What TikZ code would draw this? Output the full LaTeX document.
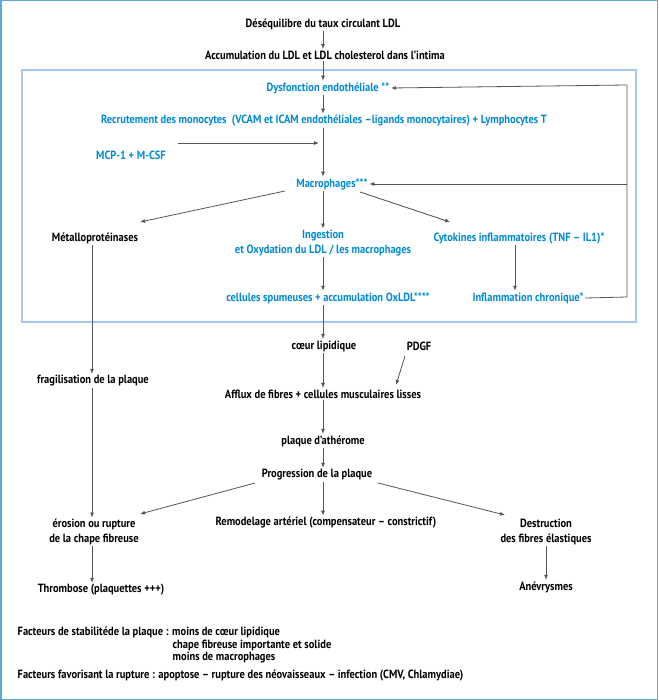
\documentclass[tikz,border=0pt]{standalone}
\usepackage{fontspec}
\setmainfont{PT Sans}[FakeStretch=0.88]
\usetikzlibrary{arrows.meta,calc}
\definecolor{blueT}{RGB}{0,138,210}
\definecolor{boxC}{RGB}{160,200,240}
\definecolor{frameC}{RGB}{90,170,225}
\definecolor{lineC}{RGB}{85,85,85}
\begin{document}
\begin{tikzpicture}[x=1pt,y=-1pt,
  txt/.style={font=\bfseries\fontsize{11.9}{14.5}\selectfont, inner sep=1.5pt, align=center, text=black},
  btxt/.style={txt, text=blueT},
  arr/.style={draw=lineC, line width=0.8pt, -{Latex[length=5pt,width=4pt]}},
  ln/.style={draw=lineC, line width=0.8pt}]
\useasboundingbox (0,0) rectangle (658,700);
\draw[frameC, line width=1.5pt] (0.75,0.75) rectangle (657.25,699.25);
\draw[boxC, line width=1.6pt] (22,70) rectangle (636,322);

\node[txt] (desq) at (323,24) {Déséquilibre du taux circulant LDL};
\node[txt] (accu) at (325,55) {Accumulation du LDL et LDL cholesterol dans l’intima};
\node[btxt] (dys) at (328,88) {Dysfonction endothéliale **};
\node[btxt] (recr) at (324,121) {Recrutement des monocytes\ \ (VCAM et ICAM endothéliales –ligands monocytaires) + Lymphocytes T};
\node[btxt] (mcp) at (131,155) {MCP-1 + M-CSF};
\node[btxt] (macro) at (332,184) {Macrophages***};
\node[txt] (metal) at (95,238) {Métalloprotéinases};
\node[btxt] (inges) at (323,243) {Ingestion\\et Oxydation du LDL / les macrophages};
\node[btxt] (cyto) at (519,238) {Cytokines inflammatoires (TNF – IL1)*};
\node[btxt] (spum) at (328,298) {cellules spumeuses + accumulation OxLDL****};
\node[btxt] (infl) at (528,298) {Inflammation chronique*};
\node[txt] (coeur) at (324,346) {cœur lipidique};
\node[txt] (pdgf) at (419,346) {PDGF};
\node[txt] (fragi) at (93,381) {fragilisation de la plaque};
\node[txt] (afflux) at (323,394) {Afflux de fibres + cellules musculaires lisses};
\node[txt] (plaque) at (323,441) {plaque d’athérome};
\node[txt] (progr) at (317,475) {Progression de la plaque};
\node[txt] (eros) at (94,532) {érosion ou rupture\\de la chape fibreuse};
\node[txt] (remod) at (326,523) {Remodelage artériel (compensateur – constrictif)};
\node[txt] (destr) at (546,532) {Destruction\\des fibres élastiques};
\node[txt] (thromb) at (101,590) {Thrombose (plaquettes +++)};
\node[txt] (anev) at (546,587) {Anévrysmes};

\node[txt, anchor=west, align=left] (fac1) at (16,632) {Facteurs de stabilitéde la plaque : moins de cœur lipidique};
\node[txt, anchor=west, align=left] (fac2) at (171,645) {chape fibreuse importante et solide};
\node[txt, anchor=west, align=left] (fac3) at (171,658) {moins de macrophages};
\node[txt, anchor=west, align=left] (fac4) at (16,676) {Facteurs favorisant la rupture : apoptose – rupture des néovaisseaux – infection (CMV, Chlamydiae)};

% coordinates
\coordinate (cx) at (323,0);
\coordinate (fbbot) at (627,297);
\coordinate (fbtop) at (627,85);
\coordinate (fbmid) at (627,184);
\coordinate (mcpS) at (178,143);
\coordinate (mcpT) at (319,143);
\coordinate (macL) at (285,191);
\coordinate (metT) at (140,222);
\coordinate (macR) at (360,192);
\coordinate (cytT) at (450,222);
\coordinate (pdS) at (405,356);
\coordinate (pdT) at (396,385);
\coordinate (prL) at (255,483);
\coordinate (erT) at (140,514);
\coordinate (prR) at (378,483);
\coordinate (deT) at (505,515);
\coordinate (cyx) at (515,0);
\coordinate (lx) at (92,0);

% connectors
\draw[arr] (desq.south -| cx) -- (accu.north -| cx);
\draw[arr] (accu.south -| cx) -- (dys.north -| cx);
\draw[arr] (dys.south -| cx) -- (recr.north -| cx);
\draw[arr] (recr.south -| cx) -- (macro.north -| cx);
\draw[arr] (mcpS) -- (mcpT);
\draw[ln] (infl.east) -- (fbbot) -- (fbtop);
\draw[arr] (fbtop) -- (dys.east);
\draw[arr] (fbmid) -- (macro.east);
\draw[arr] (macL) -- (metT);
\draw[arr] (macro.south -| cx) -- (inges.north -| cx);
\draw[arr] (macR) -- (cytT);
\draw[arr] (inges.south -| cx) -- (spum.north -| cx);
\draw[arr] (cyto.south -| cyx) -- (infl.north -| cyx);
\draw[arr] (spum.south -| cx) -- (coeur.north -| cx);
\draw[arr] (metal.south -| lx) -- (fragi.north -| lx);
\draw[arr] (fragi.south -| lx) -- (eros.north -| lx);
\draw[arr] (eros.south -| lx) -- (thromb.north -| lx);
\draw[arr] (coeur.south -| cx) -- (afflux.north -| cx);
\draw[arr] (pdS) -- (pdT);
\draw[arr] (afflux.south -| cx) -- (plaque.north -| cx);
\draw[arr] (plaque.south -| cx) -- (progr.north -| cx);
\draw[arr] (prL) -- (erT);
\draw[arr] (progr.south -| cx) -- (remod.north -| cx);
\draw[arr] (prR) -- (deT);
\draw[arr] (destr.south -| anev.north) -- (anev.north);
\end{tikzpicture}
\end{document}
